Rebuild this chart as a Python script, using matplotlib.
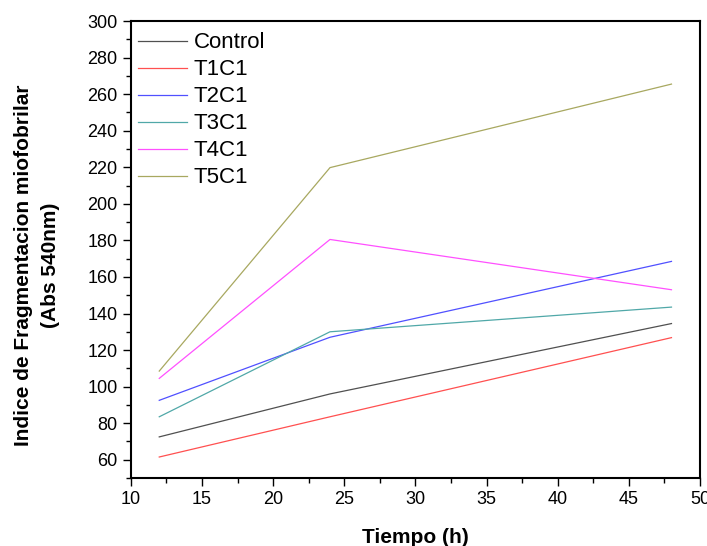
import matplotlib.pyplot as plt
from matplotlib.ticker import MultipleLocator

plt.rcParams['font.family'] = ['Liberation Sans', 'DejaVu Sans']

tiempo = [12, 24, 48]
series = ["Control", "T1C1", "T2C1", "T3C1", "T4C1", "T5C1"]
control = [72.5, 96, 134.5]
t1c1 = [61.5, 83.5, 126.8]
t2c1 = [92.5, 127, 168.5]
t3c1 = [83.5, 130, 143.5]
t4c1 = [104.5, 180.5, 153]
t5c1 = [108.5, 219.8, 265.5]
colors = ["#505050", "#ff5050", "#5050ff", "#50a8a8", "#ff50ff", "#a8a860"]

fig = plt.figure(figsize=(7.07, 5.46), dpi=100)
ax = fig.add_axes([0.185, 0.1245, 0.805, 0.837])

for name, vals, c in zip(series, [control, t1c1, t2c1, t3c1, t4c1, t5c1], colors):
    ax.plot(tiempo, vals, color=c, lw=0.9, label=name)

ax.set_xlim(10, 50)
ax.set_ylim(50, 300)
ax.set_yticks(range(60, 301, 20))
ax.xaxis.set_major_locator(MultipleLocator(5))
ax.xaxis.set_minor_locator(MultipleLocator(2.5))
ax.yaxis.set_minor_locator(MultipleLocator(10))
ax.tick_params(which='both', direction='out', top=False, right=False, labelsize=13)
ax.tick_params(which='major', length=6, width=1)
ax.tick_params(which='minor', length=3.5, width=1)
for s in ax.spines.values():
    s.set_linewidth(1.5)

ax.set_xlabel("Tiempo (h)", fontsize=15, fontweight='bold')
ax.xaxis.set_label_coords(0.5, -0.11)
ax.set_ylabel("Indice de Fragmentacion miofobrilar\n(Abs 540nm)", fontsize=15,
              fontweight='bold', linespacing=1.5)
ax.yaxis.set_label_coords(-0.125, 0.466)

ax.legend(loc='upper left', frameon=False, fontsize=16, handlelength=2.2,
          handletextpad=0.3, labelspacing=0.27, borderaxespad=0, borderpad=0.2,
          bbox_to_anchor=(0.005, 0.985))

plt.savefig("out.png", dpi=100)
